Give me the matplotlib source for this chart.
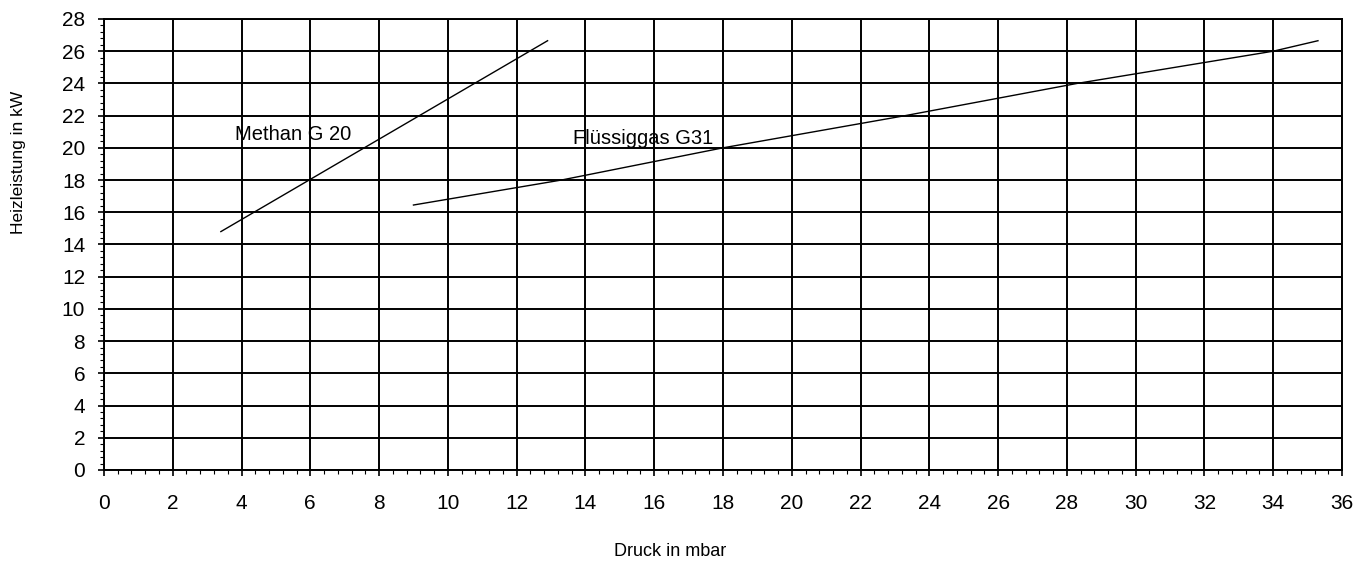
import numpy as np
import matplotlib.pyplot as plt
from matplotlib.ticker import MultipleLocator

plt.rcParams['font.family'] = ['Liberation Sans', 'DejaVu Sans']

# Methan G 20 (gerade Linie)
methan_x = [3.4, 12.9]
methan_y = [14.8, 26.65]

# Flüssiggas G31
lpg_x = [9.0, 13.3, 18.0, 23.3, 28.3, 34.0, 35.3]
lpg_y = [16.45, 18.0, 20.0, 22.0, 24.0, 26.0, 26.65]

fig = plt.figure(figsize=(13.64, 5.63), dpi=100)
ax = fig.add_axes([0.0762, 0.1652, 0.9077, 0.8011])

ax.plot(methan_x, methan_y, color='black', linewidth=1.0)
ax.plot(lpg_x, lpg_y, color='black', linewidth=1.0)

ax.text(3.8, 20.8, "Methan G 20", fontsize=14.5, va='center', ha='left')
ax.text(13.65, 20.6, "Flüssiggas G31", fontsize=14.5, va='center', ha='left')

ax.set_xlim(0, 36)
ax.set_ylim(0, 28)
ax.xaxis.set_major_locator(MultipleLocator(2))
ax.yaxis.set_major_locator(MultipleLocator(2))
ax.xaxis.set_minor_locator(MultipleLocator(0.4))
ax.yaxis.set_minor_locator(MultipleLocator(0.4))
ax.grid(which='major', color='black', linewidth=1.4)
ax.tick_params(which='major', direction='out', length=4.5, width=1.2,
               labelsize=15)
ax.tick_params(axis='x', which='major', pad=13)
ax.tick_params(axis='y', which='major', pad=9)
ax.tick_params(which='minor', direction='out', length=3, width=0.8)
for s in ax.spines.values():
    s.set_linewidth(1.4)

# Achsentitel (wie im Original nicht mittig zur Achse)
fig.text(0.491, 0.021, "Druck in mbar", fontsize=13, ha='center', va='center')
fig.text(0.0135, 0.712, "Heizleistung in kW", fontsize=12.5, rotation=90,
         ha='center', va='center')

fig.savefig("out.png", dpi=100)
